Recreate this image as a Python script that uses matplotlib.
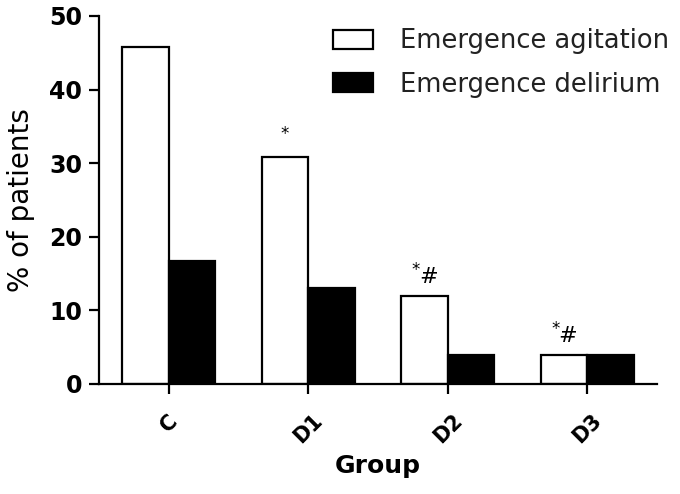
import numpy as np
import matplotlib
matplotlib.use("Agg")
import matplotlib.pyplot as plt

groups = ["C", "D1", "D2", "D3"]
agitation = [45.8, 30.8, 12.0, 4.0]
delirium = [16.7, 13.0, 4.0, 4.0]
marks = ["", "*", "*#", "*#"]

plt.rcParams["font.family"] = ["DejaVu Sans"]

fig = plt.figure(figsize=(6.8, 4.94), dpi=100)
ax = fig.add_axes([0.1456, 0.2227, 0.8204, 0.745])

x = np.arange(len(groups))
w = 1 / 3
ax.bar(x - w / 2, agitation, w, color="white", edgecolor="black", linewidth=1.6,
       label="Emergence agitation")
ax.bar(x + w / 2, delirium, w, color="black", edgecolor="black", linewidth=1.6,
       label="Emergence delirium")

# significance marks above the agitation bars
for xi, v, m in zip(x, agitation, marks):
    if not m:
        continue
    if m == "*":
        ax.text(xi - w / 2, v + 2.0, "*", ha="center", va="bottom", fontsize=12)
    else:
        ax.text(xi - w / 2 - 0.04, v + 1.2, "#", ha="left", va="bottom", fontsize=16)
        ax.text(xi - w / 2 - 0.03, v + 2.3, "*", ha="right", va="bottom", fontsize=12)

ax.set_xlim(-0.5, 3.5)
ax.set_ylim(0, 50)
ax.set_yticks([0, 10, 20, 30, 40, 50])
ax.set_xticks(x)
ax.set_xticklabels(groups, rotation=45, ha="center",
                   fontweight="bold", fontsize=15)
for lab in ax.get_yticklabels():
    lab.set_fontweight("bold")
    lab.set_fontsize(17)

for s in ["top", "right"]:
    ax.spines[s].set_visible(False)
for s in ["left", "bottom"]:
    ax.spines[s].set_linewidth(1.6)
ax.tick_params(direction="out", length=7.2, width=1.6, pad=5)
ax.tick_params(axis="x", pad=12)

ax.set_ylabel("% of patients", fontsize=20, labelpad=10)
ax.set_xlabel("Group", fontsize=18, fontweight="bold", labelpad=5)

leg = ax.legend(loc="upper left", bbox_to_anchor=(0.419, 0.966), frameon=False,
                borderpad=0, borderaxespad=0,
                fontsize=18.5, handlelength=1.55, handleheight=0.78,
                handletextpad=1.05, labelspacing=0.67)
for t in leg.get_texts():
    t.set_color("#222222")

fig.savefig("out.png", dpi=100)
